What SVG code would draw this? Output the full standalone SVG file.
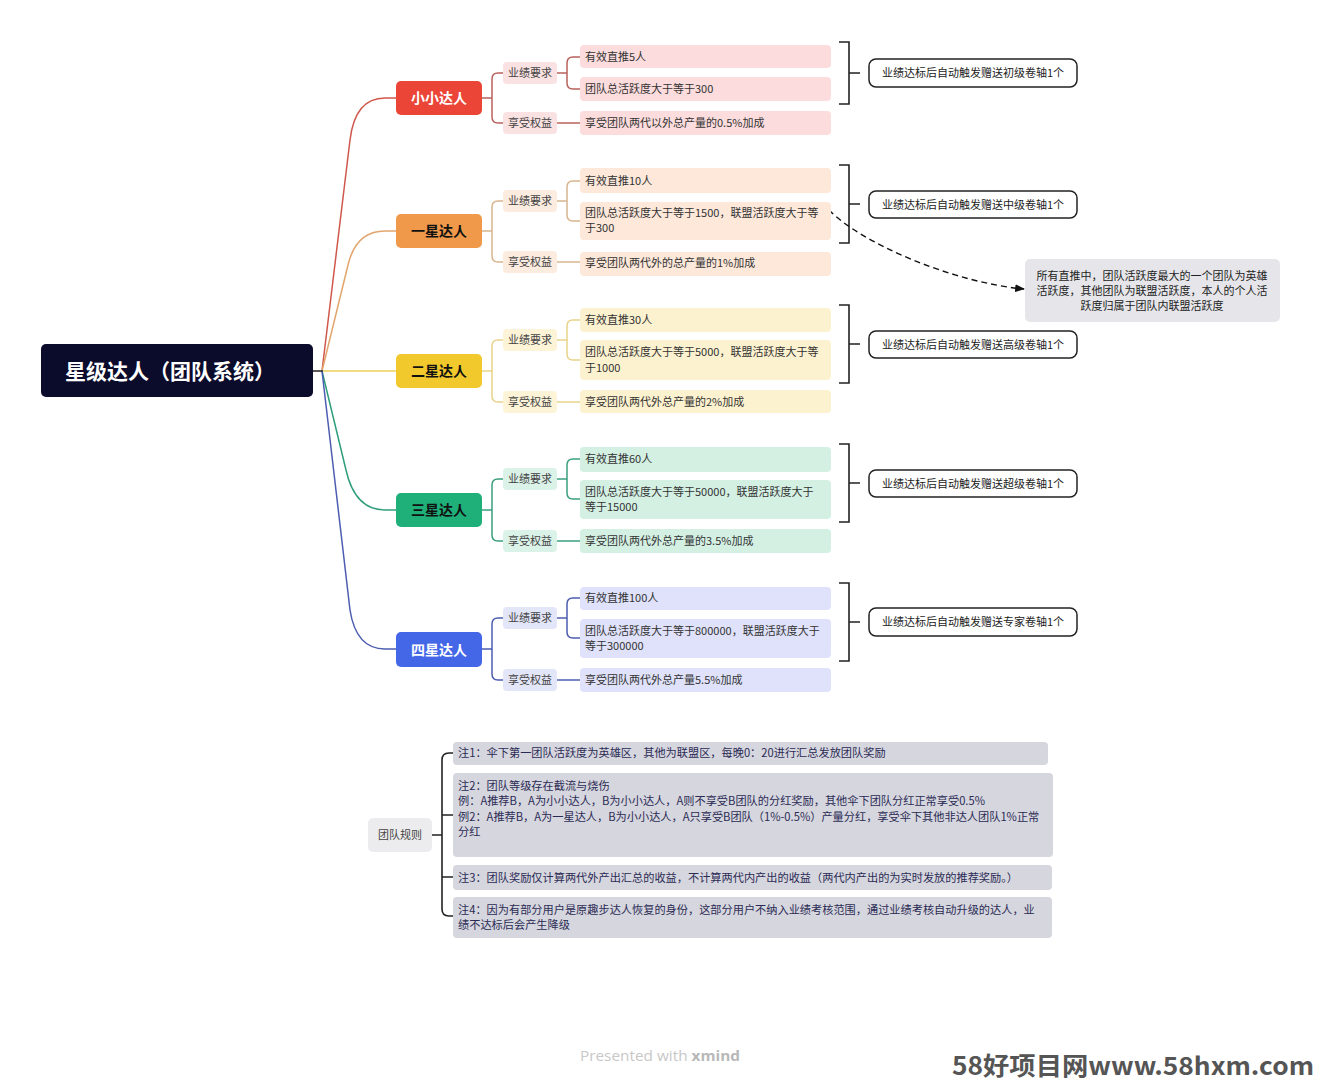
<svg xmlns="http://www.w3.org/2000/svg" width="1321" height="1080" viewBox="0 0 1321 1080">
<defs>
<style>
text{font-family:"Noto Sans CJK SC","Noto Sans",sans-serif;}
.root{fill:#fff;font-size:21px;font-weight:bold;text-anchor:middle;}
.l1{font-size:14px;font-weight:bold;text-anchor:middle;}
.l2{font-size:11px;fill:#444;text-anchor:middle;}
.leaf{font-size:11px;fill:#333;}
.gift{fill:#fff;stroke:#222;stroke-width:1.5;}
.gt{font-size:11px;fill:#222;text-anchor:middle;}
.brk{fill:none;stroke:#222;stroke-width:1.6;}
.ln{fill:none;stroke-width:1.5;}
.note{fill:#d6d6de;}
.nt{font-size:11.2px;fill:#2b2b55;}
</style>
<marker id="arr" viewBox="0 0 10 10" refX="9" refY="5" markerWidth="7" markerHeight="7" orient="auto">
<path d="M0,1 L10,5 L0,9 Z" fill="#111"/>
</marker>
</defs>
<rect width="1321" height="1080" fill="#fff"/>

<g id="connectors">
<path class="ln" stroke="#d0574c" d="M322,371 L350,140 Q355,98 385,98 H396"/>
<path class="ln" stroke="#e2a56e" d="M322,371 L348,265 Q356,231 385,231 H396"/>
<path class="ln" stroke="#efcf5a" d="M313,371 H396"/>
<path class="ln" stroke="#2f9e7c" d="M322,371 L346,470 Q355,510 385,510 H396"/>
<path class="ln" stroke="#4d5db0" d="M322,371 L350,610 Q356,649 385,649 H396"/>
<path class="ln" stroke="#2a2a44" d="M313,371 H323"/>
<g stroke="#b8625c" class="ln">
<path d="M482,98 H492 M503,73 H498 Q492,73 492,79 V117 Q492,123 498,123 H503"/>
<path d="M557,73 H567 M580,57 H573 Q567,57 567,63 V83 Q567,89 573,89 H580"/>
<path d="M557,123 H580"/>
</g>
<g stroke="#d8b58e" class="ln">
<path d="M482,231 H492 M503,201 H498 Q492,201 492,207 V256 Q492,262 498,262 H503"/>
<path d="M557,201 H567 M580,181 H573 Q567,181 567,187 V215 Q567,221 573,221 H580"/>
<path d="M557,262 H580"/>
</g>
<g stroke="#e7d48a" class="ln">
<path d="M482,371 H492 M503,340 H498 Q492,340 492,346 V396 Q492,402 498,402 H503"/>
<path d="M557,340 H567 M580,320 H573 Q567,320 567,326 V354 Q567,360 573,360 H580"/>
<path d="M557,402 H580"/>
</g>
<g stroke="#3a9e80" class="ln">
<path d="M482,510 H492 M503,479 H498 Q492,479 492,485 V535 Q492,541 498,541 H503"/>
<path d="M557,479 H567 M580,459 H573 Q567,459 567,465 V493 Q567,499 573,499 H580"/>
<path d="M557,541 H580"/>
</g>
<g stroke="#4d5db0" class="ln">
<path d="M482,649 H492 M503,618 H498 Q492,618 492,624 V674 Q492,680 498,680 H503"/>
<path d="M557,618 H567 M580,598 H573 Q567,598 567,604 V632 Q567,638 573,638 H580"/>
<path d="M557,680 H580"/>
</g>
<path class="brk" d="M839,42 H849 V104 H839 M849,73 H860"/>
<path class="brk" d="M839,165 H849 V243 H839 M849,204 H860"/>
<path class="brk" d="M839,305 H849 V383 H839 M849,344 H860"/>
<path class="brk" d="M839,444 H849 V522 H839 M849,483 H860"/>
<path class="brk" d="M839,583 H849 V661 H839 M849,622 H860"/>
<path d="M829,210 C860,242 950,282 1024,289" fill="none" stroke="#111" stroke-width="1.4" stroke-dasharray="6,4" marker-end="url(#arr)"/>
<path class="brk" d="M432,835 H442 M453,753 H449 Q442,753 442,760 V909 Q442,916 449,916 H453 M442,815 H453 M442,877 H453"/>
</g>

<g id="root">
<rect x="41" y="344" width="272" height="53" rx="5" fill="#0b0b2b"/>
<text class="root" x="170" y="379">星级达人（团队系统）</text>
</g>

<g id="n0">
<rect x="396" y="81" width="86" height="34" rx="5" fill="#ea4537"/>
<text class="l1" x="439" y="103" fill="#fff">小小达人</text>
</g>
<g id="n1">
<rect x="396" y="214" width="86" height="34" rx="5" fill="#f0994b"/>
<text class="l1" x="439" y="236" fill="#111">一星达人</text>
</g>
<g id="n2">
<rect x="396" y="354" width="86" height="34" rx="5" fill="#f1c92c"/>
<text class="l1" x="439" y="376" fill="#111">二星达人</text>
</g>
<g id="n3">
<rect x="396" y="493" width="86" height="34" rx="5" fill="#1fb07a"/>
<text class="l1" x="439" y="515" fill="#111">三星达人</text>
</g>
<g id="n4">
<rect x="396" y="632" width="86" height="35" rx="5" fill="#4467e8"/>
<text class="l1" x="439" y="655" fill="#fff">四星达人</text>
</g>

<g id="g0-req"><rect x="503" y="62" width="54" height="22" rx="4" fill="#fbe2e2"/><text class="l2" x="530" y="77">业绩要求</text></g>
<g id="g0-ben"><rect x="503" y="112" width="54" height="22" rx="4" fill="#fbe2e2"/><text class="l2" x="530" y="127">享受权益</text></g>
<g id="g0-a"><rect x="580" y="45" width="251" height="23" rx="4" fill="#fcdcdc"/><text class="leaf" x="585" y="61">有效直推5人</text></g>
<g id="g0-b"><rect x="580" y="77" width="251" height="24" rx="4" fill="#fcdcdc"/><text class="leaf" x="585" y="93">团队总活跃度大于等于300</text></g>
<g id="g0-c"><rect x="580" y="111" width="251" height="24" rx="4" fill="#fcdcdc"/><text class="leaf" x="585" y="127">享受团队两代以外总产量的0.5%加成</text></g>
<g id="g0-gift"><rect class="gift" x="869" y="59" width="208" height="28" rx="7"/><text class="gt" x="973" y="77">业绩达标后自动触发赠送初级卷轴1个</text></g>

<g id="g1-req"><rect x="503" y="190" width="54" height="22" rx="4" fill="#fcebdf"/><text class="l2" x="530" y="205">业绩要求</text></g>
<g id="g1-ben"><rect x="503" y="251" width="54" height="22" rx="4" fill="#fcebdf"/><text class="l2" x="530" y="266">享受权益</text></g>
<g id="g1-a"><rect x="580" y="168" width="251" height="25" rx="4" fill="#fde8da"/><text class="leaf" x="585" y="185">有效直推10人</text></g>
<g id="g1-b"><rect x="580" y="202" width="251" height="38" rx="4" fill="#fde8da"/><text class="leaf" x="585" y="217">团队总活跃度大于等于1500，联盟活跃度大于等</text><text class="leaf" x="585" y="232">于300</text></g>
<g id="g1-c"><rect x="580" y="252" width="251" height="24" rx="4" fill="#fde8da"/><text class="leaf" x="585" y="267">享受团队两代外的总产量的1%加成</text></g>
<g id="g1-gift"><rect class="gift" x="869" y="191" width="208" height="27" rx="7"/><text class="gt" x="973" y="209">业绩达标后自动触发赠送中级卷轴1个</text></g>

<g id="g2-req"><rect x="503" y="329" width="54" height="22" rx="4" fill="#fdf4d8"/><text class="l2" x="530" y="344">业绩要求</text></g>
<g id="g2-ben"><rect x="503" y="391" width="54" height="22" rx="4" fill="#fdf4d8"/><text class="l2" x="530" y="406">享受权益</text></g>
<g id="g2-a"><rect x="580" y="308" width="251" height="24" rx="4" fill="#fdf2cf"/><text class="leaf" x="585" y="324">有效直推30人</text></g>
<g id="g2-b"><rect x="580" y="340" width="251" height="40" rx="4" fill="#fdf2cf"/><text class="leaf" x="585" y="356">团队总活跃度大于等于5000，联盟活跃度大于等</text><text class="leaf" x="585" y="372">于1000</text></g>
<g id="g2-c"><rect x="580" y="390" width="251" height="23" rx="4" fill="#fdf2cf"/><text class="leaf" x="585" y="406">享受团队两代外总产量的2%加成</text></g>
<g id="g2-gift"><rect class="gift" x="869" y="331" width="208" height="27" rx="7"/><text class="gt" x="973" y="349">业绩达标后自动触发赠送高级卷轴1个</text></g>

<g id="g3-req"><rect x="503" y="468" width="54" height="22" rx="4" fill="#dbf2e8"/><text class="l2" x="530" y="483">业绩要求</text></g>
<g id="g3-ben"><rect x="503" y="530" width="54" height="22" rx="4" fill="#dbf2e8"/><text class="l2" x="530" y="545">享受权益</text></g>
<g id="g3-a"><rect x="580" y="447" width="251" height="25" rx="4" fill="#d3f0e3"/><text class="leaf" x="585" y="463">有效直推60人</text></g>
<g id="g3-b"><rect x="580" y="480" width="251" height="39" rx="4" fill="#d3f0e3"/><text class="leaf" x="585" y="496">团队总活跃度大于等于50000，联盟活跃度大于</text><text class="leaf" x="585" y="511">等于15000</text></g>
<g id="g3-c"><rect x="580" y="529" width="251" height="24" rx="4" fill="#d3f0e3"/><text class="leaf" x="585" y="545">享受团队两代外总产量的3.5%加成</text></g>
<g id="g3-gift"><rect class="gift" x="869" y="470" width="208" height="27" rx="7"/><text class="gt" x="973" y="488">业绩达标后自动触发赠送超级卷轴1个</text></g>

<g id="g4-req"><rect x="503" y="607" width="54" height="22" rx="4" fill="#e3e6f8"/><text class="l2" x="530" y="622">业绩要求</text></g>
<g id="g4-ben"><rect x="503" y="669" width="54" height="22" rx="4" fill="#e3e6f8"/><text class="l2" x="530" y="684">享受权益</text></g>
<g id="g4-a"><rect x="580" y="587" width="251" height="23" rx="4" fill="#dfe2fa"/><text class="leaf" x="585" y="602">有效直推100人</text></g>
<g id="g4-b"><rect x="580" y="619" width="251" height="39" rx="4" fill="#dfe2fa"/><text class="leaf" x="585" y="635">团队总活跃度大于等于800000，联盟活跃度大于</text><text class="leaf" x="585" y="650">等于300000</text></g>
<g id="g4-c"><rect x="580" y="668" width="251" height="24" rx="4" fill="#dfe2fa"/><text class="leaf" x="585" y="684">享受团队两代外总产量5.5%加成</text></g>
<g id="g4-gift"><rect class="gift" x="869" y="608" width="208" height="28" rx="7"/><text class="gt" x="973" y="626">业绩达标后自动触发赠送专家卷轴1个</text></g>

<g id="callout">
<rect x="1025" y="259" width="255" height="63" rx="5" fill="#e6e6ea"/>
<text class="gt" x="1152" y="280">所有直推中，团队活跃度最大的一个团队为英雄</text>
<text class="gt" x="1152" y="295">活跃度，其他团队为联盟活跃度，本人的个人活</text>
<text class="gt" x="1152" y="310">跃度归属于团队内联盟活跃度</text>
</g>

<g id="rules">
<rect x="368" y="818" width="64" height="34" rx="5" fill="#ececee"/>
<text class="l2" x="400" y="839" fill="#333">团队规则</text>
</g>
<g id="note1"><rect class="note" x="453" y="742" width="595" height="23" rx="4"/><text class="nt" x="458" y="757">注1：伞下第一团队活跃度为英雄区，其他为联盟区，每晚0：20进行汇总发放团队奖励</text></g>
<g id="note2"><rect class="note" x="453" y="773" width="600" height="84" rx="4"/>
<text class="nt" x="458" y="790">注2：团队等级存在截流与烧伤</text>
<text class="nt" x="458" y="805">例：A推荐B，A为小小达人，B为小小达人，A则不享受B团队的分红奖励，其他伞下团队分红正常享受0.5%</text>
<text class="nt" x="458" y="821">例2：A推荐B，A为一星达人，B为小小达人，A只享受B团队（1%-0.5%）产量分红，享受伞下其他非达人团队1%正常</text>
<text class="nt" x="458" y="836">分红</text></g>
<g id="note3"><rect class="note" x="453" y="865" width="599" height="25" rx="4"/><text class="nt" x="458" y="882">注3：团队奖励仅计算两代外产出汇总的收益，不计算两代内产出的收益（两代内产出的为实时发放的推荐奖励。）</text></g>
<g id="note4"><rect class="note" x="453" y="897" width="599" height="41" rx="4"/>
<text class="nt" x="458" y="914">注4：因为有部分用户是原趣步达人恢复的身份，这部分用户不纳入业绩考核范围，通过业绩考核自动升级的达人，业</text>
<text class="nt" x="458" y="929">绩不达标后会产生降级</text></g>

<text x="580" y="1061" font-size="15" fill="#c8c8c8" textLength="160" lengthAdjust="spacingAndGlyphs" style="font-family:'Open Sans','Noto Sans',sans-serif">Presented with <tspan font-weight="bold" fill="#b8b8b8">xmind</tspan></text>
<text x="952" y="1075" font-size="25" font-weight="bold" fill="#555" textLength="362" lengthAdjust="spacingAndGlyphs">58好项目网www.58hxm.com</text>
</svg>
